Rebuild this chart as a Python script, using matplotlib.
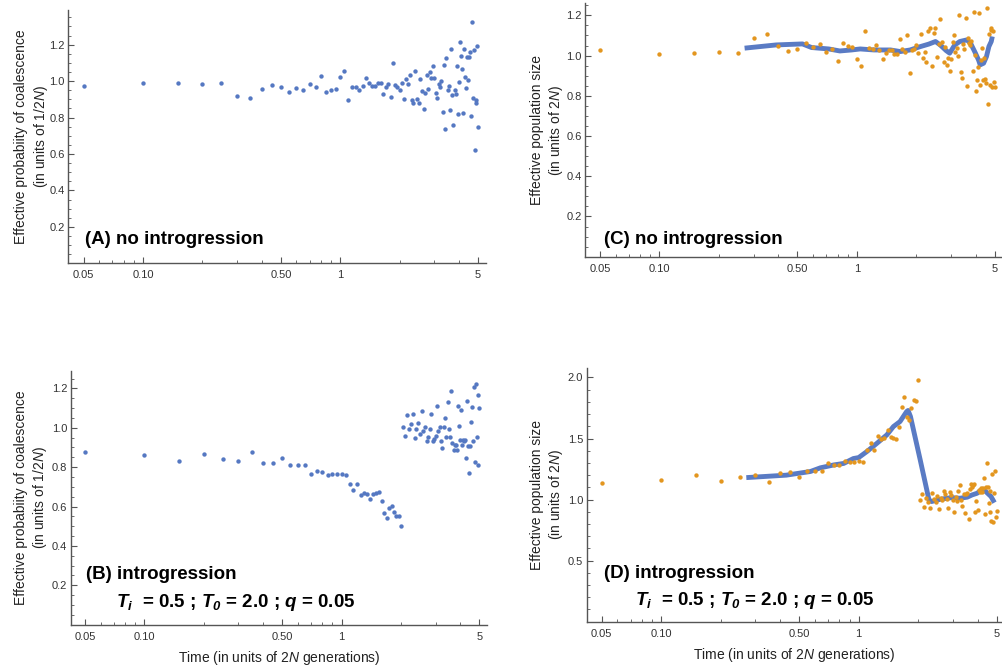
import matplotlib
matplotlib.use("Agg")
import matplotlib.pyplot as plt
from matplotlib.ticker import FixedLocator, FixedFormatter, NullFormatter

plt.rcParams['font.family'] = ['Liberation Sans', 'DejaVu Sans']
plt.rcParams['mathtext.fontset'] = 'custom'
plt.rcParams['mathtext.rm'] = 'Liberation Sans'
plt.rcParams['mathtext.it'] = 'Liberation Sans:italic'
plt.rcParams['mathtext.bf'] = 'Liberation Sans:bold'
plt.rcParams['mathtext.bfit'] = 'Liberation Sans:italic:bold'

# ---------------- data ----------------
times = [0.05, 0.10, 0.15, 0.20, 0.25, 0.30, 0.35, 0.40, 0.45, 0.50,
         0.55, 0.60, 0.65, 0.70, 0.75, 0.80, 0.85, 0.90, 0.95, 1.00,
         1.05, 1.10, 1.15, 1.20, 1.25, 1.30, 1.35, 1.40, 1.45, 1.50,
         1.55, 1.60, 1.65, 1.70, 1.75, 1.80, 1.85, 1.90, 1.95, 2.00,
         2.05, 2.10, 2.15, 2.20, 2.25, 2.30, 2.35, 2.40, 2.45, 2.50,
         2.55, 2.60, 2.65, 2.70, 2.75, 2.80, 2.85, 2.90, 2.95, 3.00,
         3.05, 3.10, 3.15, 3.20, 3.25, 3.30, 3.35, 3.40, 3.45, 3.50,
         3.55, 3.60, 3.65, 3.70, 3.75, 3.80, 3.85, 3.90, 3.95, 4.00,
         4.05, 4.10, 4.15, 4.20, 4.25, 4.30, 4.35, 4.40, 4.45, 4.50,
         4.55, 4.60, 4.65, 4.70, 4.75, 4.80, 4.85, 4.90, 4.95, 5.00]

# (A) coalescence probability, no introgression
coal_no_intro = [0.975, 0.99, 0.99, 0.985, 0.99, 0.92, 0.905, 0.955, 0.978, 0.967,
                 0.938, 0.96, 0.949, 0.984, 0.967, 1.027, 0.94, 0.953, 0.956, 1.02,
                 1.055, 0.896, 0.965, 0.969, 0.949, 0.973, 1.016, 0.987, 0.973, 0.971,
                 0.99, 0.991, 0.927, 0.969, 0.986, 0.912, 1.099, 0.976, 0.967, 0.953,
                 0.989, 0.903, 1.011, 0.982, 1.033, 0.894, 0.88, 1.053, 0.901, 0.88,
                 1.009, 0.944, 0.845, 0.936, 1.035, 0.958, 1.049, 1.015, 1.08, 1.016,
                 0.934, 0.907, 0.986, 0.965, 1.0, 0.83, 1.088, 0.739, 1.126, 0.949,
                 0.971, 0.841, 1.175, 0.921, 0.757, 0.951, 0.931, 1.084, 0.821, 0.996,
                 1.216, 1.135, 1.068, 0.823, 1.175, 1.024, 0.964, 1.134, 1.008, 1.13,
                 1.159, 0.81, 1.325, 0.905, 1.172, 0.624, 0.894, 0.88, 1.19, 0.748]

# (B) coalescence probability, introgression
coal_intro = [0.878, 0.86, 0.829, 0.868, 0.841, 0.831, 0.875, 0.819, 0.819, 0.846,
              0.812, 0.809, 0.812, 0.765, 0.779, 0.777, 0.758, 0.765, 0.763, 0.763,
              0.761, 0.714, 0.685, 0.714, 0.658, 0.67, 0.665, 0.638, 0.665, 0.667,
              0.672, 0.626, 0.569, 0.543, 0.594, 0.604, 0.574, 0.552, 0.552, 0.503,
              1.005, 0.958, 1.064, 0.992, 1.017, 1.071, 0.949, 0.993, 1.022, 0.97,
              1.083, 0.985, 1.002, 0.934, 0.951, 0.995, 1.071, 0.934, 0.943, 0.958,
              1.11, 0.983, 1.005, 0.934, 0.895, 1.005, 1.051, 0.951, 1.129, 0.992,
              0.953, 1.186, 0.921, 0.888, 0.911, 0.911, 0.888, 1.112, 1.009, 0.936,
              1.088, 0.912, 0.94, 0.932, 0.94, 0.848, 1.134, 0.909, 0.768, 0.909,
              1.029, 1.107, 0.934, 1.205, 0.827, 1.223, 0.951, 0.809, 1.168, 1.102]

# (C) effective population size, no introgression
ne_no_intro = [1.027, 1.01, 1.013, 1.017, 1.012, 1.088, 1.106, 1.05, 1.023, 1.033,
               1.065, 1.042, 1.057, 1.018, 1.035, 0.975, 1.065, 1.05, 1.045, 0.982,
               0.949, 1.12, 1.037, 1.032, 1.055, 1.03, 0.985, 1.015, 1.03, 1.03,
               1.008, 1.008, 1.08, 1.033, 1.017, 1.1, 0.912, 1.028, 1.035, 1.053,
               1.013, 1.108, 0.99, 1.017, 0.969, 1.12, 1.136, 0.95, 1.11, 1.136,
               0.994, 1.057, 1.184, 1.068, 0.967, 1.045, 0.952, 0.989, 0.925, 0.985,
               1.07, 1.103, 1.017, 1.04, 1.0, 1.204, 0.919, 0.888, 1.057, 1.032,
               1.189, 0.849, 1.088, 1.062, 1.055, 1.075, 0.924, 1.217, 1.005, 0.823,
               0.879, 0.942, 1.212, 0.853, 0.977, 1.038, 0.879, 0.99, 0.886, 0.863,
               1.237, 0.758, 1.108, 0.855, 1.128, 1.138, 0.843, 1.12, 0.87, 0.845]

# (D) effective population size, introgression
ne_intro = [1.139, 1.161, 1.205, 1.153, 1.189, 1.205, 1.142, 1.219, 1.222, 1.183,
            1.23, 1.238, 1.233, 1.303, 1.284, 1.284, 1.32, 1.311, 1.311, 1.317,
            1.311, 1.402, 1.462, 1.402, 1.522, 1.495, 1.506, 1.566, 1.516, 1.506,
            1.498, 1.596, 1.762, 1.836, 1.68, 1.653, 1.746, 1.817, 1.806, 1.981,
            0.995, 1.044, 0.94, 1.011, 0.984, 0.934, 1.052, 1.005, 0.978, 1.03,
            0.924, 1.016, 0.997, 1.071, 1.049, 1.003, 0.934, 1.066, 1.038, 1.0,
            0.902, 1.025, 0.992, 1.074, 1.118, 0.997, 0.951, 1.049, 0.889, 1.049,
            1.052, 0.844, 1.085, 1.126, 1.101, 1.118, 1.126, 0.9, 0.992, 0.916,
            1.079, 1.066, 1.093, 1.066, 1.093, 1.175, 0.883, 1.107, 1.303, 1.107,
            0.97, 1.071, 0.9, 0.828, 1.208, 0.815, 1.052, 1.235, 0.861, 0.91]

# smoothed curves
smooth_c_t = [0.27, 0.39, 0.53, 0.59, 0.72, 0.82, 0.94, 1.04, 1.22, 1.48,
              1.66, 1.86, 2.10, 2.31, 2.50, 2.64, 2.83, 2.95, 3.13, 3.32,
              3.60, 3.76, 3.97, 4.13, 4.21, 4.38, 4.53, 4.66, 4.79, 4.85]
smooth_c_v = [1.037, 1.053, 1.058, 1.04, 1.033, 1.023, 1.028, 1.033, 1.028, 1.028,
              1.02, 1.028, 1.045, 1.057, 1.07, 1.053, 1.025, 1.012, 1.053, 1.07,
              1.078, 1.062, 1.015, 0.978, 0.954, 0.962, 0.995, 1.045, 1.07, 1.095]

smooth_d_t = [0.27, 0.43, 0.57, 0.64, 0.75, 0.84, 0.94, 1.0, 1.1, 1.24,
              1.39, 1.50, 1.62, 1.75, 1.78, 1.83, 2.05, 2.27, 2.34, 2.60,
              2.95, 3.26, 3.55, 3.75, 3.98, 4.23, 4.40, 4.68, 4.87]
smooth_d_v = [1.18, 1.2, 1.23, 1.26, 1.284, 1.296, 1.336, 1.344, 1.393, 1.462,
              1.53, 1.598, 1.639, 1.721, 1.73, 1.68, 1.325, 0.998, 0.984, 1.003,
              1.016, 1.011, 1.02, 1.038, 1.052, 1.085, 1.066, 1.025, 0.975]

x_major = [0.05, 0.10, 0.50, 1, 5]
x_major_labels = ["0.05", "0.10", "0.50", "1", "5"]
x_minor = [0.06, 0.07, 0.08, 0.09, 0.2, 0.3, 0.4, 0.6, 0.7, 0.8, 0.9, 2, 3, 4]
y_major_coal = [0.2, 0.4, 0.6, 0.8, 1.0, 1.2]
y_major_d = [0.5, 1.0, 1.5, 2.0]

BLUE = '#5578c2'
LINE_BLUE = '#5a7bc4'
ORANGE = '#e3961f'
AX_COL = '#555555'
TXT_COL = '#333333'
PT_SIZE = 10

W, H = 1002, 671
fig = plt.figure(figsize=(W / 100, H / 100), dpi=100)


def make_axes(l, r, t, b):
    return fig.add_axes([l / W, 1 - b / H, (r - l) / W, (b - t) / H])


def style(ax, xlim, ylim, ymaj, ystep):
    ax.set_xscale('log')
    ax.set_xlim(*xlim)
    ax.set_ylim(*ylim)
    for s in ['top', 'right']:
        ax.spines[s].set_visible(False)
    for s in ['left', 'bottom']:
        ax.spines[s].set_color(AX_COL)
        ax.spines[s].set_linewidth(1.0)
    ax.xaxis.set_major_locator(FixedLocator(x_major))
    ax.xaxis.set_major_formatter(FixedFormatter(x_major_labels))
    ax.xaxis.set_minor_locator(FixedLocator(x_minor))
    ax.xaxis.set_minor_formatter(NullFormatter())
    ax.yaxis.set_major_locator(FixedLocator(ymaj))
    ax.yaxis.set_major_formatter(FixedFormatter(["%.1f" % v for v in ymaj]))
    n = int(round(ylim[1] / ystep)) + 1
    ax.yaxis.set_minor_locator(FixedLocator([round(i * ystep, 3) for i in range(1, n)]))
    ax.tick_params(which='both', direction='in', colors=AX_COL, labelcolor=TXT_COL,
                   labelsize=8)
    ax.tick_params(which='major', length=4, width=0.8)
    ax.tick_params(which='minor', length=2.2, width=0.6)
    ax.tick_params(axis='x', which='major', pad=5)
    ax.tick_params(axis='y', which='major', pad=2.5)
    ax.patch.set_alpha(0)


ylab_coal = "Effective probabiity of coalescence\n(in units of 1/2$\\mathit{N}$)"
ylab_ne = "Effective population size\n(in units of 2$\\mathit{N}$)"
xlab = "Time (in units of 2$\\mathit{N}$ generations)"
params = ("$\\mathbfit{T}_{\\mathbfit{i}}$  = 0.5 ; $\\mathbfit{T}_{\\mathbfit{0}}$ = 2.0 ; "
          "$\\mathbfit{q}$ = 0.05")

LBL_FS = 13.5
AXLBL_FS = 10

# (A)
axA = make_axes(68, 486, 10, 263.3)
style(axA, (0.0417, 5.48), (0.0, 1.39), y_major_coal, 0.05)
axA.scatter(times, coal_no_intro, s=PT_SIZE, color=BLUE, linewidths=0, zorder=3)
axA.set_ylabel(ylab_coal, fontsize=AXLBL_FS, linespacing=1.25, color='#222222')
axA.yaxis.set_label_coords(-0.044, 0.5)
axA.text(0.041, 0.092, "(A) no introgression", transform=axA.transAxes,
         fontsize=LBL_FS, fontweight='bold', ha='left', va='center')

# (B)
axB = make_axes(70.7, 487, 370.7, 624.7)
style(axB, (0.0423, 5.47), (0.0, 1.29), y_major_coal, 0.05)
axB.scatter(times, coal_intro, s=PT_SIZE, color=BLUE, linewidths=0, zorder=3)
axB.set_ylabel(ylab_coal, fontsize=AXLBL_FS, linespacing=1.25, color='#222222')
axB.yaxis.set_label_coords(-0.051, 0.5)
axB.set_xlabel(xlab, fontsize=AXLBL_FS, color='#222222')
axB.xaxis.set_label_coords(0.5, -0.095)
axB.text(0.037, 0.196, "(B) introgression", transform=axB.transAxes,
         fontsize=LBL_FS, fontweight='bold', ha='left', va='center')
axB.text(0.109, 0.087, params, transform=axB.transAxes,
         fontsize=LBL_FS, fontweight='bold', ha='left', va='center')

# (C)
axC = make_axes(585, 1001.7, 3.3, 256.7)
style(axC, (0.0420, 5.41), (0.0, 1.26), y_major_coal, 0.05)
axC.plot(smooth_c_t, smooth_c_v, color=LINE_BLUE, lw=3.5, solid_capstyle='butt', zorder=2)
axC.scatter(times, ne_no_intro, s=PT_SIZE, color=ORANGE, linewidths=0, zorder=3)
axC.set_ylabel(ylab_ne, fontsize=AXLBL_FS, linespacing=1.25, color='#222222')
axC.yaxis.set_label_coords(-0.048, 0.5)
axC.text(0.046, 0.066, "(C) no introgression", transform=axC.transAxes,
         fontsize=LBL_FS, fontweight='bold', ha='left', va='center')

# (D)
axD = make_axes(586.7, 1001.7, 367.7, 621.7)
style(axD, (0.0420, 5.3), (0.0, 2.08), y_major_d, 0.1)
axD.plot(smooth_d_t, smooth_d_v, color=LINE_BLUE, lw=3.5, solid_capstyle='butt', zorder=2)
axD.scatter(times, ne_intro, s=PT_SIZE, color=ORANGE, linewidths=0, zorder=3)
axD.set_ylabel(ylab_ne, fontsize=AXLBL_FS, linespacing=1.25, color='#222222')
axD.yaxis.set_label_coords(-0.052, 0.5)
axD.set_xlabel(xlab, fontsize=AXLBL_FS, color='#222222')
axD.xaxis.set_label_coords(0.5, -0.095)
axD.text(0.042, 0.19, "(D) introgression", transform=axD.transAxes,
         fontsize=LBL_FS, fontweight='bold', ha='left', va='center')
axD.text(0.117, 0.083, params, transform=axD.transAxes,
         fontsize=LBL_FS, fontweight='bold', ha='left', va='center')

fig.savefig("out.png", dpi=100)
